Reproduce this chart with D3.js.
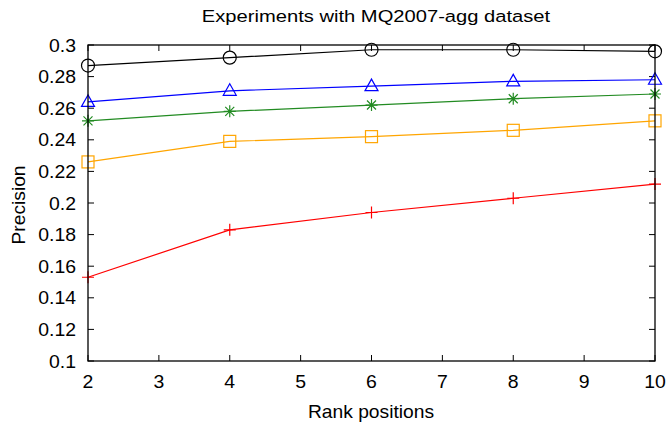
<!DOCTYPE html>
<html><head><meta charset="utf-8">
<script src="https://cdn.jsdelivr.net/npm/d3@7"></script>
<style>body{margin:0;background:#fff;} text{font-family:"Liberation Sans",Arial,sans-serif;fill:#000;}</style>
</head><body><svg id="c" width="670" height="427"></svg>
<script>
const rankPositions = [2, 4, 6, 8, 10];
const seriesBlack  = [0.287, 0.292, 0.297, 0.297, 0.296];
const seriesBlue   = [0.264, 0.271, 0.274, 0.277, 0.278];
const seriesGreen  = [0.252, 0.258, 0.262, 0.266, 0.269];
const seriesOrange = [0.226, 0.239, 0.242, 0.246, 0.252];
const seriesRed    = [0.153, 0.183, 0.194, 0.203, 0.212];
const xTicks = [2, 3, 4, 5, 6, 7, 8, 9, 10];
const yTicks = [0.1, 0.12, 0.14, 0.16, 0.18, 0.2, 0.22, 0.24, 0.26, 0.28, 0.3];
const titleText = "Experiments with MQ2007-agg dataset";
const xLabel = "Rank positions";
const yLabel = "Precision";

const series = [
  {values: seriesBlack, color: "#000000", marker: "circle"},
  {values: seriesBlue, color: "#0000ff", marker: "triangle"},
  {values: seriesGreen, color: "#228b22", marker: "star"},
  {values: seriesOrange, color: "#ffa500", marker: "square"},
  {values: seriesRed, color: "#ff0000", marker: "plus"}
];

const svg = d3.select("#c");
const L = 88, R = 655, T = 45, B = 361;
const x = d3.scaleLinear().domain([2, 10]).range([L, R]);
const y = d3.scaleLinear().domain([0.1, 0.3]).range([B, T]);

// ticks (inward, mirrored)
const tk = 6;
const g = svg.append("g").attr("stroke", "#000").attr("stroke-width", 1);
xTicks.forEach(v => {
  g.append("line").attr("x1", x(v)).attr("x2", x(v)).attr("y1", B).attr("y2", B - tk);
  g.append("line").attr("x1", x(v)).attr("x2", x(v)).attr("y1", T).attr("y2", T + tk);
});
yTicks.forEach(v => {
  g.append("line").attr("x1", L).attr("x2", L + tk).attr("y1", y(v)).attr("y2", y(v));
  g.append("line").attr("x1", R).attr("x2", R - tk).attr("y1", y(v)).attr("y2", y(v));
});

svg.selectAll(".xt").data(xTicks).enter().append("text")
  .attr("transform", d => `translate(${x(d)},${B + 27}) scale(1.08,1)`)
  .attr("text-anchor", "middle").attr("font-size", 18).text(d => d);
svg.selectAll(".yt").data(yTicks).enter().append("text")
  .attr("transform", d => `translate(${L - 12},${y(d) + 6.5}) scale(1.08,1)`)
  .attr("text-anchor", "end").attr("font-size", 18).text(d => String(+d.toFixed(2)));

svg.append("text").attr("transform", "translate(376,22) scale(1.2,1)").attr("text-anchor", "middle")
  .attr("font-size", 16.8).text(titleText);
svg.append("text").attr("transform", "translate(371,418) scale(1.1,1)").attr("text-anchor", "middle")
  .attr("font-size", 17.5).text(xLabel);
svg.append("text").attr("transform", `translate(25,${(T + B) / 2 + 2}) rotate(-90) scale(1.1,1)`)
  .attr("text-anchor", "middle").attr("font-size", 17.5).text(yLabel);

const line = d3.line().x((d, i) => x(rankPositions[i])).y(d => y(d));
series.forEach(s => {
  svg.append("path").attr("d", line(s.values)).attr("fill", "none")
    .attr("stroke", s.color).attr("stroke-width", 1.2);
  s.values.forEach((v, i) => {
    const cx = x(rankPositions[i]), cy = y(v);
    const m = svg.append("g").attr("transform", `translate(${cx},${cy})`)
      .attr("fill", "none").attr("stroke", s.color).attr("stroke-width", 1.2);
    if (s.marker === "circle") m.append("circle").attr("r", 6.5);
    else if (s.marker === "triangle") m.append("path").attr("d", "M0,-7L6.5,4.5L-6.5,4.5Z");
    else if (s.marker === "square") m.append("rect").attr("x", -6).attr("y", -6).attr("width", 12).attr("height", 12);
    else if (s.marker === "plus") m.append("path").attr("d", "M-6,0H6M0,-6V6");
    else if (s.marker === "star") m.append("path").attr("d", "M-6,0H6M0,-6V6M-4.5,-4.5L4.5,4.5M-4.5,4.5L4.5,-4.5");
  });
});

// frame
svg.append("rect").attr("x", L).attr("y", T).attr("width", R - L).attr("height", B - T)
  .attr("fill", "none").attr("stroke", "#000").attr("stroke-width", 1.3);
</script></body></html>
